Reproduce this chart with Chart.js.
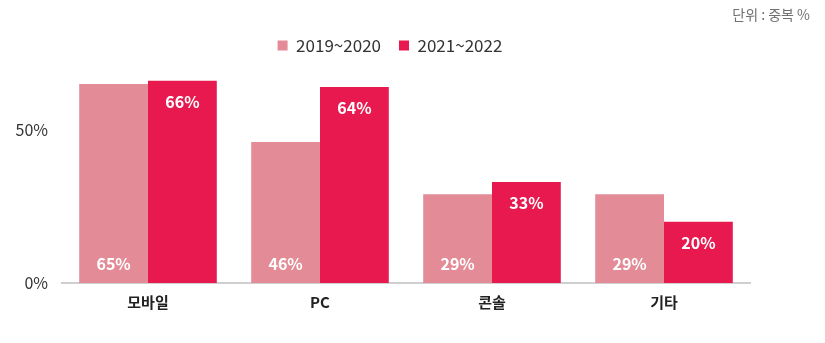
<!DOCTYPE html>
<html>
<head>
<meta charset="utf-8">
<script src="https://cdn.jsdelivr.net/npm/chart.js@4"></script>
<style>
  html, body { margin: 0; padding: 0; background: #fff; }
  #wrap { position: relative; width: 825px; height: 343px; }
  #unit { position: absolute; right: 15px; top: 4px; font: 14px "Noto Sans CJK KR", sans-serif; color: #707070; }
</style>
</head>
<body>
<div id="wrap">
  <canvas id="bar-chart" width="825" height="343"></canvas>
  <div id="unit">단위 : 중복 %</div>
</div>
<script>
const categories = ['모바일', 'PC', '콘솔', '기타'];
const seriesNames = ['2019~2020', '2021~2022'];
const early = [65, 46, 29, 29];
const late = [66, 64, 33, 20];
const yTicks = [0, 50];

const FONT = '"Noto Sans CJK KR", "Noto Sans", sans-serif';

// value labels: first series sits near the base, second near the top
const barLabels = {
  id: 'barLabels',
  afterDatasetsDraw(chart) {
    const ctx = chart.ctx;
    ctx.save();
    ctx.fillStyle = '#fff';
    ctx.font = 'bold 16px ' + FONT;
    ctx.textAlign = 'center';
    ctx.textBaseline = 'middle';
    chart.data.datasets.forEach((ds, i) => {
      chart.getDatasetMeta(i).data.forEach((bar, j) => {
        const y = i === 0 ? bar.base - 19 : bar.y + 21;
        ctx.fillText(ds.data[j] + '%', bar.x, y);
      });
    });
    ctx.restore();
  }
};

// nudge the legend a bit right so it sits over the plot
const legendShift = {
  id: 'legendShift',
  afterLayout(chart) {
    chart.legend.left += 15;
    chart.legend.right += 15;
  }
};

new Chart(
  document.getElementById('bar-chart'),
  {
    type: 'bar',
    data: {
      labels: categories,
      datasets: [
        {
          label: seriesNames[0],
          data: early,
          backgroundColor: 'rgb(227, 139, 150)',
        },
        {
          label: seriesNames[1],
          data: late,
          backgroundColor: 'rgb(232, 25, 78)',
        },
      ],
    },
    options: {
      responsive: false,
      animation: false,
      layout: { padding: { top: 19, right: 75, left: 0, bottom: 22 } },
      datasets: { bar: { barPercentage: 1, categoryPercentage: 0.8 } },
      plugins: {
        legend: {
          position: 'top',
          labels: {
            boxWidth: 10,
            boxHeight: 10,
            padding: 18,
            color: '#333',
            font: { family: FONT, size: 17 },
          },
        },
        tooltip: { enabled: false },
      },
      scales: {
        x: {
          grid: { display: false, drawTicks: false },
          border: { display: true, color: '#cfcfcf', width: 2 },
          ticks: { color: '#222', padding: 10, font: { family: FONT, size: 15, weight: 'bold' } },
        },
        y: {
          min: 0,
          max: 71.5,
          afterFit(scale) { scale.width = 62; },
          afterBuildTicks(scale) { scale.ticks = yTicks.map(v => ({ value: v })); },
          grid: { display: false, drawTicks: false },
          border: { display: false },
          ticks: {
            color: '#333',
            padding: 14,
            font: { family: FONT, size: 16 },
            callback: v => v + '%',
          },
        },
      },
    },
    plugins: [barLabels, legendShift],
  }
);
</script>
</body>
</html>
